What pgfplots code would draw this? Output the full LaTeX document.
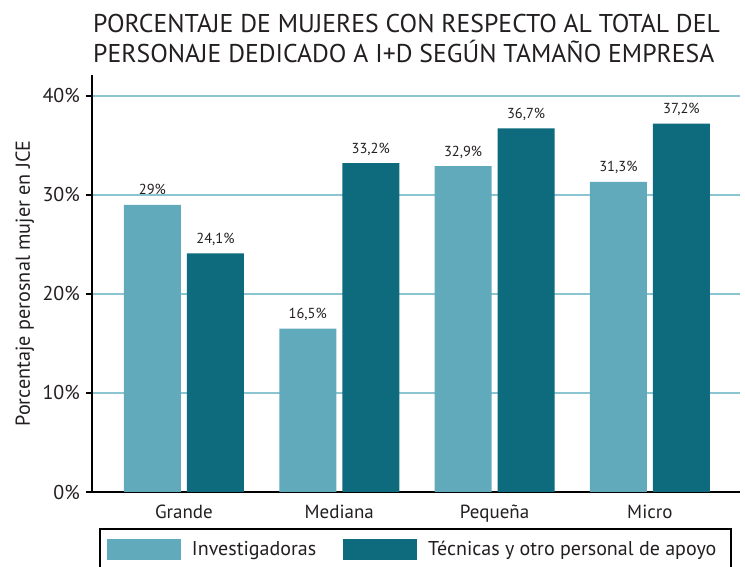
\documentclass[border=0pt]{standalone}
\usepackage{pgfplots}
\pgfplotsset{compat=1.18}
\usepackage{pgfplotstable}
\usepackage{fontspec}
\setmainfont{PT Sans}
\definecolor{lightbar}{RGB}{97,170,187}
\definecolor{darkbar}{RGB}{14,106,125}
\definecolor{gridblue}{RGB}{140,197,210}
\definecolor{txt}{RGB}{35,31,32}
\pgfplotstableread{
x inv tec
0 29 24.1
1 16.5 33.2
2 32.9 36.7
3 31.3 37.2
}\datatable
\begin{document}
\begin{tikzpicture}
\begin{axis}[
  scale only axis,
  width=648pt, height=417pt,
  xmin=-0.592, xmax=3.58,
  ymin=0, ymax=42.1,
  axis lines=left,
  axis line style={-, line width=2pt, black},
  xtick={0,1,2,3},
  xticklabels={Grande,Mediana,Pequeña,Micro},
  x tick style={draw=none},
  xticklabel style={font=\fontsize{19}{22}\selectfont, text=txt, anchor=base, yshift=-21pt},
  ytick={0,10,20,30,40},
  yticklabels={0\%,10\%,20\%,30\%,40\%},
  tick align=outside,
  major tick length=6pt,
  y tick style={line width=1.6pt, black},
  yticklabel style={font=\fontsize{20}{24}\selectfont, text=txt, anchor=east, inner sep=0pt, xshift=-6pt},
  ymajorgrids,
  major grid style={gridblue, line width=1.5pt},
  ylabel={Porcentaje perosnal mujer en JCE},
  ylabel style={at={(axis description cs:-0.1035,0.5)}, anchor=center, font=\fontsize{20.2}{24}\selectfont, text=txt},
  ybar,
  bar width=57pt,
  point meta=y,
  nodes near coords={\pgfmathprintnumber[use comma,fixed,precision=1,assume math mode=true]{\pgfplotspointmeta}\%},
  every node near coord/.append style={font=\fontsize{14.5}{17}\selectfont, text=txt, anchor=base, inner sep=0pt, yshift=10pt},
  legend columns=2,
  legend image code/.code={\fill[#1] (0pt,-10.5pt) rectangle (74pt,10.5pt);},
  legend style={at={(axis description cs:0.0108,-0.0863)}, anchor=north west,
    draw=black, line width=2pt, inner xsep=7pt, inner ysep=10pt,
    font=\fontsize{20}{24}\selectfont, text=txt,
    nodes={inner sep=0pt},
    /tikz/every odd column/.append style={column sep=11pt},
    /tikz/every even column/.append style={column sep=27pt}},
  legend cell align=left,
]
\addplot[fill=lightbar, draw=none, bar shift=-31.5pt] table[x=x, y=inv] {\datatable};
\addlegendentry{Investigadoras}
\addplot[fill=darkbar, draw=none, bar shift=31.5pt] table[x=x, y=tec] {\datatable};
\addlegendentry{Técnicas y otro personal de apoyo\hspace*{8pt}}
\end{axis}
\node[anchor=base west, inner sep=0pt, text=txt, font=\fontsize{25.7}{30}\selectfont] at (1pt,459pt) {PORCENTAJE DE MUJERES CON RESPECTO AL TOTAL DEL};
\node[anchor=base west, inner sep=0pt, text=txt, font=\fontsize{25.7}{30}\selectfont] at (1pt,429pt) {PERSONAJE DEDICADO A I+D SEGÚN TAMAÑO EMPRESA};
\pgfresetboundingbox
\useasboundingbox (-92pt,-75pt) rectangle (653pt,492pt);
\end{tikzpicture}
\end{document}
